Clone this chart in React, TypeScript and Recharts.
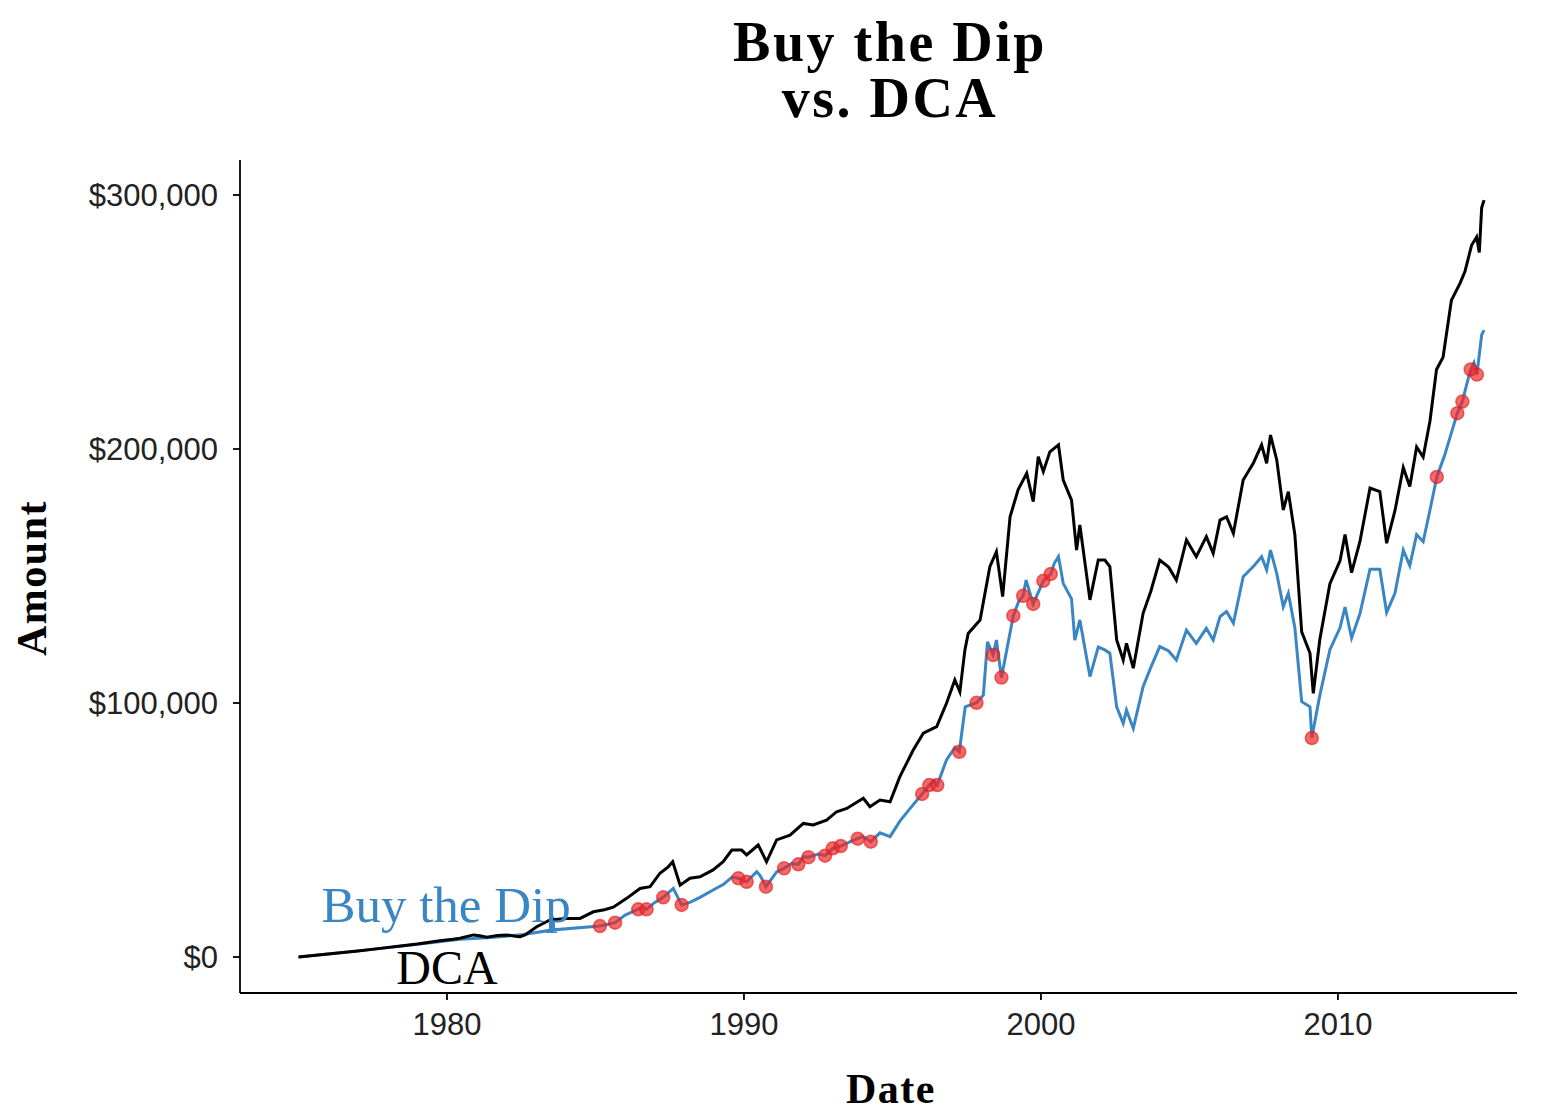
import {
  ComposedChart,
  Line,
  Scatter,
  XAxis,
  YAxis,
  ReferenceDot,
} from "recharts";

// values in thousands of dollars
const dcaSeries: [number, number][] = [
  [1975.0, 0], [1976.0, 1.2], [1977.0, 2.4], [1977.74, 3.4], [1978.5, 4.4],
  [1979.0, 5.1], [1979.76, 6.4], [1980.2, 7.0], [1980.44, 7.4], [1980.89, 8.7],
  [1981.1, 8.4], [1981.34, 7.8], [1981.7, 8.5], [1982.01, 8.7], [1982.3, 8.2],
  [1982.46, 8.0], [1982.63, 8.7], [1983.02, 11.9], [1983.47, 14.6], [1984.03, 15.2],
  [1984.48, 15.2], [1984.93, 17.8], [1985.3, 18.6], [1985.6, 19.6], [1986.05, 23.1],
  [1986.5, 27.0], [1986.84, 27.7], [1987.17, 33.0], [1987.45, 35.5], [1987.6, 37.5],
  [1987.85, 28.3], [1988.18, 31.0], [1988.52, 31.6], [1988.96, 34.3], [1989.3, 37.5],
  [1989.59, 42.1], [1989.92, 42.1], [1990.09, 40.2], [1990.48, 44.1], [1990.76, 37.5],
  [1991.1, 46.1], [1991.55, 48.0], [1992.0, 52.6], [1992.33, 52.0], [1992.78, 53.9],
  [1993.12, 57.2], [1993.46, 58.5], [1994.02, 62.5], [1994.24, 59.2], [1994.58, 61.8],
  [1994.92, 61.1], [1995.25, 71.0], [1995.7, 81.5], [1996.04, 88.1], [1996.49, 90.7],
  [1996.82, 99.9], [1997.1, 109.1], [1997.27, 104.4], [1997.44, 120.9], [1997.55, 127.4],
  [1997.95, 132.7], [1998.28, 153.7], [1998.5, 159.6], [1998.71, 141.9], [1998.96, 173.3],
  [1999.23, 183.9], [1999.52, 190.4], [1999.74, 179.3], [1999.91, 197.0], [2000.08, 191.1],
  [2000.3, 198.9], [2000.59, 201.6], [2000.75, 187.8], [2001.03, 179.9], [2001.2, 160.2],
  [2001.31, 170.1], [2001.65, 140.6], [2001.93, 156.3], [2002.15, 156.3], [2002.32, 153.7],
  [2002.55, 124.8], [2002.77, 116.9], [2002.88, 123.5], [2003.11, 113.7], [2003.44, 135.3],
  [2003.7, 144.0], [2004.0, 156.3], [2004.3, 153.5], [2004.56, 148.4], [2004.9, 164.2],
  [2005.23, 157.6], [2005.57, 165.5], [2005.8, 158.9], [2006.03, 172.0], [2006.25, 173.3],
  [2006.48, 166.8], [2006.81, 187.8], [2007.15, 194.4], [2007.43, 201.6], [2007.6, 194.4],
  [2007.73, 205.5], [2007.94, 195.7], [2008.16, 176.0], [2008.33, 183.2], [2008.55, 166.3],
  [2008.78, 128.0], [2009.06, 119.6], [2009.17, 103.8], [2009.39, 125.0], [2009.73, 147.0],
  [2010.07, 156.0], [2010.24, 166.3], [2010.46, 151.3], [2010.74, 163.5], [2011.08, 184.6],
  [2011.41, 183.2], [2011.64, 162.9], [2011.92, 175.7], [2012.2, 192.7], [2012.42, 185.2],
  [2012.65, 200.8], [2012.87, 196.8], [2013.1, 211.0], [2013.32, 231.3], [2013.54, 236.1],
  [2013.82, 258.5], [2014.11, 265.2], [2014.28, 270.0], [2014.5, 280.2], [2014.67, 283.5],
  [2014.76, 277.4], [2014.84, 295.0], [2014.92, 298.0],
];

const dipSeries: [number, number][] = [
  [1975.0, 0], [1977.74, 3.3], [1979.3, 5.4], [1980.44, 7.0], [1981.34, 7.6],
  [1982.0, 8.2], [1982.57, 8.9], [1983.52, 10.6], [1983.56, 15.9], [1983.6, 10.7],
  [1985.15, 12.2], [1985.66, 13.5], [1986.0, 16.5], [1986.44, 18.8], [1986.6, 19.5],
  [1986.72, 18.8], [1987.0, 21.5], [1987.28, 23.5], [1987.62, 27.0], [1987.9, 20.5],
  [1988.18, 21.5], [1988.52, 23.5], [1988.96, 26.4], [1989.3, 28.5], [1989.6, 31.5],
  [1989.81, 31.0], [1990.09, 29.6], [1990.43, 33.6], [1990.55, 32.0], [1990.74, 27.7],
  [1991.1, 33.5], [1991.35, 34.9], [1991.6, 36.8], [1991.83, 36.5], [1992.0, 39.5],
  [1992.17, 39.3], [1992.5, 40.5], [1992.73, 39.9], [1992.99, 42.8], [1993.26, 43.7],
  [1993.6, 45.5], [1993.83, 46.6], [1994.0, 47.5], [1994.27, 45.4], [1994.58, 48.9],
  [1994.92, 47.4], [1995.25, 53.5], [1995.7, 60.0], [1996.0, 64.2], [1996.24, 67.7],
  [1996.4, 69.5], [1996.51, 67.7], [1996.82, 77.6], [1997.1, 82.5], [1997.25, 80.8],
  [1997.45, 98.5], [1997.83, 100.1], [1998.06, 103.1], [1998.2, 124.1], [1998.39, 118.9],
  [1998.5, 124.8], [1998.67, 110.0], [1999.07, 134.4], [1999.25, 140.0], [1999.4, 142.2],
  [1999.5, 148.4], [1999.74, 139.0], [2000.08, 148.1], [2000.33, 150.8], [2000.45, 155.0],
  [2000.59, 157.6], [2000.75, 147.1], [2001.03, 141.0], [2001.14, 124.8], [2001.31, 132.7],
  [2001.65, 110.4], [2001.93, 122.0], [2002.15, 120.9], [2002.32, 119.6], [2002.55, 98.5],
  [2002.77, 92.0], [2002.88, 97.2], [2003.11, 90.0], [2003.44, 106.4], [2003.7, 114.0],
  [2004.0, 122.2], [2004.3, 120.5], [2004.56, 116.9], [2004.9, 128.7], [2005.23, 123.5],
  [2005.57, 129.4], [2005.8, 124.8], [2006.03, 134.0], [2006.25, 136.0], [2006.48, 131.4],
  [2006.81, 149.7], [2007.15, 153.7], [2007.43, 157.6], [2007.6, 152.4], [2007.73, 160.2],
  [2007.94, 151.0], [2008.16, 137.9], [2008.33, 143.2], [2008.55, 129.6], [2008.78, 100.5],
  [2009.06, 98.5], [2009.12, 86.2], [2009.39, 103.0], [2009.73, 121.0], [2010.07, 129.6],
  [2010.24, 137.8], [2010.46, 125.6], [2010.74, 135.1], [2011.08, 152.7], [2011.41, 152.7],
  [2011.64, 135.7], [2011.92, 143.2], [2012.2, 160.2], [2012.42, 154.1], [2012.65, 166.3],
  [2012.87, 163.5], [2013.1, 176.0], [2013.33, 189.0], [2013.59, 197.4], [2014.02, 214.1],
  [2014.19, 218.7], [2014.35, 226.0], [2014.47, 231.3], [2014.58, 234.0], [2014.68, 229.3],
  [2014.84, 244.9], [2014.92, 246.8],
];

// dip purchases (red points)
const dipBuys: [number, number][] = [
  [1985.15, 12.2], [1985.66, 13.5], [1986.44, 18.8], [1986.72, 18.8], [1987.28, 23.5],
  [1987.9, 20.5], [1989.81, 31.0], [1990.09, 29.6], [1990.74, 27.7], [1991.35, 34.9],
  [1991.83, 36.5], [1992.17, 39.3], [1992.73, 39.9], [1992.99, 42.8], [1993.26, 43.7],
  [1993.83, 46.6], [1994.27, 45.4], [1996.0, 64.2], [1996.24, 67.7], [1996.51, 67.7],
  [1997.25, 80.8], [1997.83, 100.1], [1998.39, 118.9], [1998.67, 110.0], [1999.07, 134.4],
  [1999.4, 142.2], [1999.74, 139.0], [2000.08, 148.1], [2000.33, 150.8], [2009.12, 86.2],
  [2013.33, 189.0], [2014.02, 214.1], [2014.19, 218.7], [2014.47, 231.3], [2014.68, 229.3],
];

const yearTicks = [1980, 1990, 2000, 2010];
const amountTicks = [0, 100000, 200000, 300000];

const toRows = (s: [number, number][]) => s.map(([year, k]) => ({ year, v: k * 1000 }));

const serif = "'Liberation Serif', 'Times New Roman', serif";
const sans = "'Liberation Sans', Arial, sans-serif";

const W = 1554;
const H = 1104;

function RedDot(props: any) {
  const { cx, cy } = props;
  if (cx == null || cy == null) return null;
  return (
    <circle cx={cx} cy={cy} r={6.5} fill="#f02828" fillOpacity={0.7} stroke="#e01818" strokeOpacity={0.6} strokeWidth={1.5} />
  );
}

export default function App() {
  return (
    <div style={{ position: "relative", width: W, height: H }}>
      <ComposedChart width={W} height={H} margin={{ top: 152, right: 45, bottom: 0, left: 0 }}>
        <XAxis
          dataKey="year"
          type="number"
          domain={[1973.03, 2016.03]}
          allowDataOverflow
          ticks={yearTicks}
          tickSize={7}
          tickMargin={13}
          height={119}
          axisLine={{ stroke: "#000", strokeWidth: 1.8 }}
          tickLine={{ stroke: "#000", strokeWidth: 1.8 }}
          tick={{ fill: "#222", fontSize: 31, fontFamily: sans }}
        />
        <YAxis
          dataKey="v"
          type="number"
          domain={[-14170, 313780]}
          allowDataOverflow
          ticks={amountTicks}
          tickSize={7}
          tickMargin={15}
          width={232}
          axisLine={{ stroke: "#000", strokeWidth: 1.8 }}
          tickLine={{ stroke: "#000", strokeWidth: 1.8 }}
          tick={{ fill: "#222", fontSize: 31, fontFamily: sans }}
          tickFormatter={(v: number) => "$" + v.toLocaleString("en-US")}
        />
        <Line
          data={toRows(dipSeries)}
          dataKey="v"
          type="linear"
          stroke="#3a86c4"
          strokeWidth={3}
          dot={false}
          isAnimationActive={false}
        />
        <Line
          data={toRows(dcaSeries)}
          dataKey="v"
          type="linear"
          stroke="#000"
          strokeWidth={3}
          dot={false}
          isAnimationActive={false}
        />
        <Scatter data={toRows(dipBuys)} dataKey="v" shape={<RedDot />} isAnimationActive={false} />
        <ReferenceDot
          x={1979.97}
          y={20900}
          r={0}
          ifOverflow="visible"
          label={{ value: "Buy the Dip", position: "center", fill: "#3a86c4", fontSize: 51, fontFamily: serif }}
        />
        <ReferenceDot
          x={1980.0}
          y={-4100}
          r={0}
          ifOverflow="visible"
          label={{ value: "DCA", position: "center", fill: "#000", fontSize: 48, fontFamily: serif }}
        />
      </ComposedChart>
      <svg width={W} height={H} style={{ position: "absolute", left: 0, top: 0, pointerEvents: "none" }}>
        <g fontFamily={serif} fontWeight="bold" fill="#000" textAnchor="middle">
          <text x={882} y={53} fontSize={56} letterSpacing={2.5}>Buy the Dip</text>
          <text x={882} y={109} fontSize={56} letterSpacing={2.5}>vs. DCA</text>
          <text x={883} y={1095} fontSize={42} letterSpacing={1.5}>Date</text>
          <text x={0} y={0} fontSize={42} letterSpacing={1.5} transform="translate(38,570) rotate(-90)">Amount</text>
        </g>
      </svg>
    </div>
  );
}
